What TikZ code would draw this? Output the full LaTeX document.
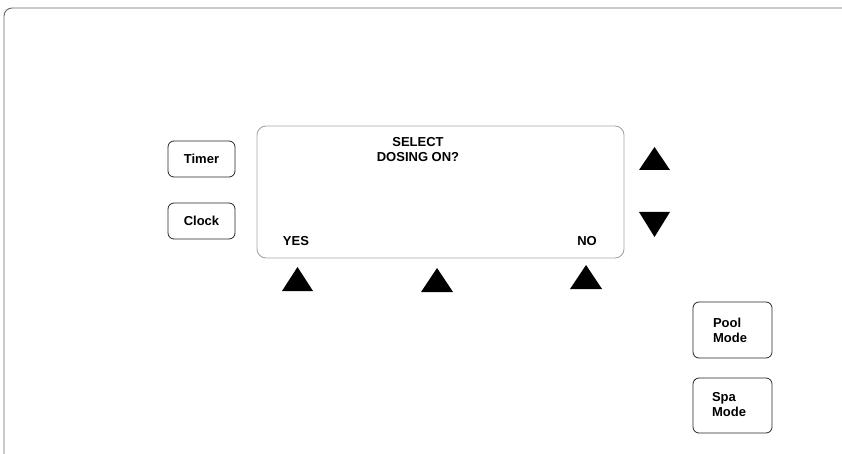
\documentclass[tikz,border=0pt]{standalone}
\usepackage{fontspec}
\setmainfont{Liberation Sans}
\begin{document}
\begin{tikzpicture}[x=1pt,y=-1pt,
  btn/.style={draw=black!85,line width=0.8pt,rounded corners=6pt},
  lbl/.style={font=\fontsize{13}{15}\selectfont\bfseries,align=center,inner sep=0pt},
  tri/.style={fill=black}]
\useasboundingbox (0,0) rectangle (842,454);
\draw[draw=black!60,line width=0.9pt,rounded corners=8pt] (4,460) -- (4,8) -- (850,8);
% display
\draw[draw=black!35,line width=0.9pt,rounded corners=9pt] (257,126) rectangle (624,258);
\node[lbl] (t1) at (418,150) {SELECT\\DOSING ON?};
\node[lbl] (yes) at (296,241) {YES};
\node[lbl] (no) at (587,241) {NO};
% buttons
\draw[btn] (168,141) rectangle (235,177);
\node[lbl] (timer) at (201.5,159) {Timer};
\draw[btn] (168,203) rectangle (235,239);
\node[lbl] (clock) at (201.5,221) {Clock};
\draw[btn] (693,302) rectangle (772,358);
\node[lbl,align=left] (pool) at (730,330) {Pool\\Mode};
\draw[btn] (693,378) rectangle (772,433);
\node[lbl,align=left] (spa) at (729,405) {Spa\\Mode};
% triangles
\fill[tri] (282,291) -- (297.5,267) -- (313,291) -- cycle;
\fill[tri] (421,292) -- (437,268) -- (453,292) -- cycle;
\fill[tri] (570,289) -- (586,265) -- (602,289) -- cycle;
\fill[tri] (639,170) -- (654.5,147) -- (670,170) -- cycle;
\fill[tri] (639,212) -- (654.5,237) -- (670,212) -- cycle;
\end{tikzpicture}
\end{document}
